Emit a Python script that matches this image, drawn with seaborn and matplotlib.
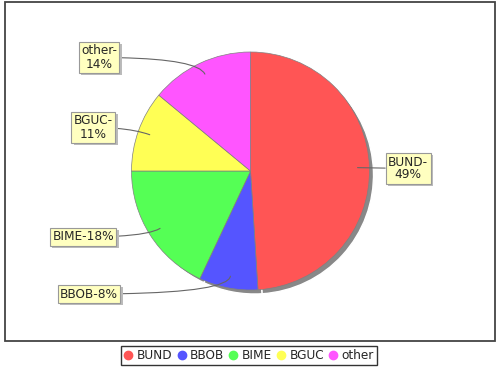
import matplotlib
matplotlib.use("Agg")
import matplotlib.pyplot as plt
import matplotlib.patheffects as pe
from matplotlib.patches import Rectangle
from matplotlib.lines import Line2D
import seaborn as sns
import numpy as np

# data
categories = ["BUND", "BBOB", "BIME", "BGUC", "other"]
shares = [49, 8, 18, 11, 14]
label_texts = ["BUND-\n49%", "BBOB-8%", "BIME-18%", "BGUC-\n11%", "other-\n14%"]
colors = ["#FF5555", "#5555FF", "#55FF55", "#FFFF55", "#FF55FF"]

sns.set_style("white")
plt.rcParams["font.family"] = ["DejaVu Sans"]

W, H = 500, 370
fig = plt.figure(figsize=(W / 100, H / 100), dpi=100)
ax = fig.add_axes([0, 0, 1, 1])

cx, cy, r = 250.5, 199, 119
pal = sns.color_palette(colors)

# shadow first, then the pie
ax.pie(shares, colors=["#888888"] * len(shares), startangle=90, counterclock=False,
       center=(cx + 4, cy - 4), radius=r, frame=True)
wedges, _ = ax.pie(shares, colors=pal, startangle=90, counterclock=False,
                   center=(cx, cy), radius=r, frame=True,
                   wedgeprops=dict(edgecolor="#808080", linewidth=0.5))
ax.set_xlim(0, W)
ax.set_ylim(0, H)
ax.axis("off")

# plot border
ax.add_patch(Rectangle((5, 29), 490, 339, fill=False, edgecolor="#444444", lw=1.3))

# label positions (y-up pixels)
label_pos = {"BUND": (388, 370 - 168.5), "BBOB": (118, 370 - 294),
             "BIME": (114, 370 - 237), "BGUC": (113, 370 - 127.5),
             "other": (117, 370 - 57.5)}

for w, cat, txt in zip(wedges, categories, label_texts):
    mid = np.deg2rad((w.theta1 + w.theta2) / 2)
    px = cx + 0.9 * r * np.cos(mid)
    py = cy + 0.9 * r * np.sin(mid)
    tx, ty = label_pos[cat]
    ha = "left" if tx > cx else "right"
    ang = np.rad2deg(mid) % 360
    if ang < 10 or ang > 350:
        cs = "arc3,rad=0"
    else:
        cs = "angle3,angleA=0,angleB=%.1f" % ang
    t = ax.annotate(txt, xy=(px, py), xytext=(tx, ty), ha=ha, va="center",
                    multialignment="center", fontsize=8.7, linespacing=1.0,
                    bbox=dict(boxstyle="square,pad=0.2", fc="#FFFFC0", ec="#999999", lw=0.8),
                    arrowprops=dict(arrowstyle="-", color="#666666", lw=0.8,
                                    connectionstyle=cs, shrinkA=0, shrinkB=0))
    t.get_bbox_patch().set_path_effects([
        pe.SimplePatchShadow(offset=(1.5, -1.5), shadow_rgbFace="#BBBBBB", alpha=1),
        pe.Normal()])

handles = [Line2D([], [], marker="o", linestyle="none", markersize=6,
                  markerfacecolor=c, markeredgecolor=c) for c in pal]
leg = fig.legend(handles, categories, loc="center", bbox_to_anchor=(249 / W, 14.5 / H),
                 ncol=5, fontsize=8.7, frameon=True, fancybox=False,
                 handlelength=0.7, handletextpad=0.35, columnspacing=0.4,
                 borderpad=0.25, borderaxespad=0)
leg.get_frame().set_edgecolor("black")
leg.get_frame().set_linewidth(1.0)

fig.savefig("out.png", dpi=100)
